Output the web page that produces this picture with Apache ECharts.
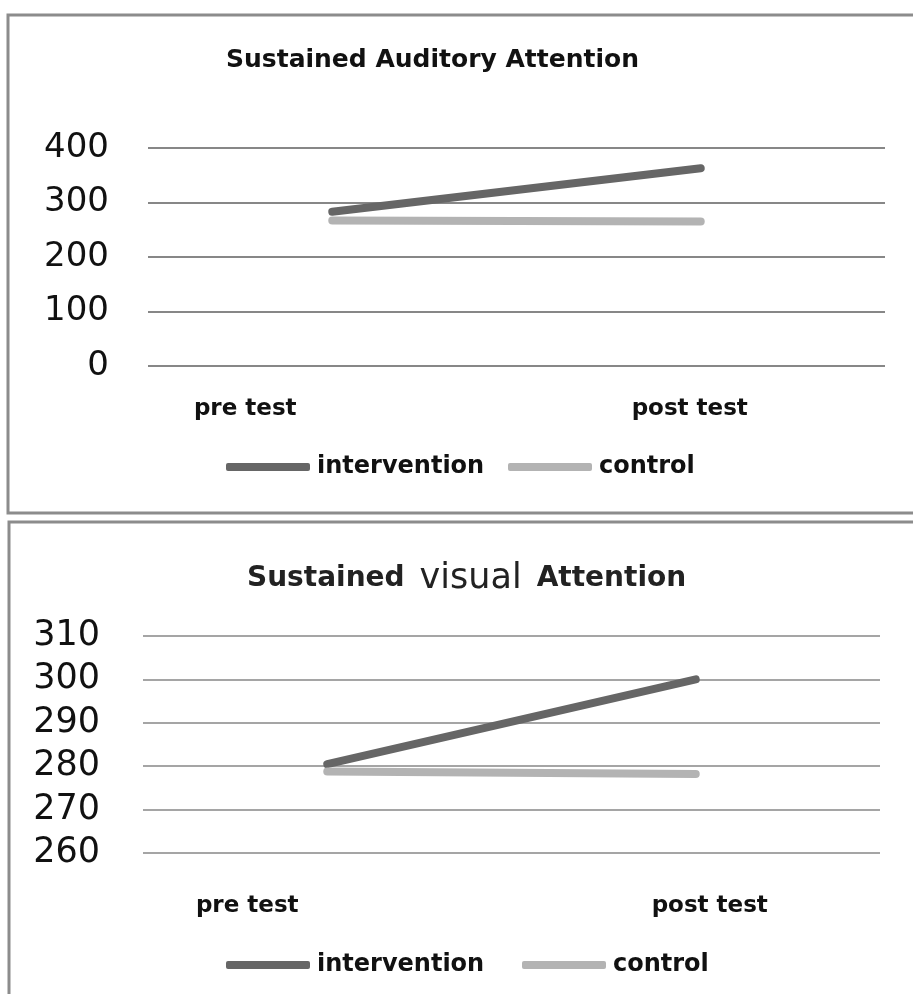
<!DOCTYPE html>
<html>
<head>
<meta charset="utf-8">
<script src="https://cdn.jsdelivr.net/npm/echarts@6/dist/echarts.min.js"></script>
<style>
html,body{margin:0;padding:0;background:#fff;}
#chart{width:913px;height:994px;}
</style>
</head>
<body>
<div id="chart"></div>
<script>
const categories = ['pre test', 'post test'];
const auditoryIntervention = [283, 363];
const auditoryControl = [267, 265];
const visualIntervention = [280.5, 300];
const visualControl = [278.8, 278.2];
const auditoryTicks = [0, 100, 200, 300, 400];
const visualTicks = [260, 270, 280, 290, 300, 310];
const seriesNames = ['intervention', 'control'];

const darkGray = '#666666';
const lightGray = '#b3b3b3';
const labelFont = 'DejaVu Sans';

function yAxis(gridIndex, ticks, fontSize, margin, lineW) {
  return {
    type: 'value', gridIndex: gridIndex,
    min: ticks[0], max: ticks[ticks.length - 1], interval: ticks[1] - ticks[0],
    axisLine: {show: false}, axisTick: {show: false},
    axisLabel: {fontFamily: labelFont, fontSize: fontSize, color: '#111', margin: margin},
    splitLine: {lineStyle: {color: '#878787', width: lineW}}
  };
}
function xAxis(gridIndex, margin, rich) {
  return {
    type: 'category', gridIndex: gridIndex, data: categories, boundaryGap: true,
    axisLine: {show: false}, axisTick: {show: false},
    axisLabel: {
      margin: margin,
      formatter: function (v, i) { return '{' + (i === 0 ? 'p' : 'q') + '|' + v + '}'; },
      rich: rich
    }
  };
}
const xLabelStyle = {fontFamily: labelFont, fontWeight: 'bold', fontSize: 23, color: '#111'};
function line(name, data, color, idx) {
  return {
    name: name, type: 'line', xAxisIndex: idx, yAxisIndex: idx, data: data,
    showSymbol: false, symbol: 'none', silent: true,
    lineStyle: {color: color, width: 8, cap: 'round'}, itemStyle: {color: color}
  };
}
function legend(name, left, top) {
  return {
    data: [name], left: left, top: top, icon: 'roundRect', itemWidth: 84, itemHeight: 8,
    itemGap: 0, selectedMode: false,
    textStyle: {fontFamily: labelFont, fontWeight: 'bold', fontSize: 24, color: '#111', padding: [0, 0, 0, 2]}
  };
}

const chart = echarts.init(document.getElementById('chart'), null, {renderer: 'canvas'});
chart.setOption({
  backgroundColor: '#fff',
  animation: false,
  graphic: [
    {type: 'rect', shape: {x: 8, y: 15, width: 960, height: 498}, style: {fill: 'none', stroke: '#8c8c8c', lineWidth: 3}},
    {type: 'rect', shape: {x: 9, y: 522, width: 960, height: 520}, style: {fill: 'none', stroke: '#8c8c8c', lineWidth: 3}}
  ],
  title: [
    {text: 'Sustained Auditory Attention', left: 226, top: 48, padding: 0,
     textStyle: {fontFamily: labelFont, fontWeight: 'bold', fontSize: 25, color: '#111'}},
    {text: '{b|Sustained} {v|visual} {b|Attention}', left: 247, top: 561, padding: 0,
     textStyle: {rich: {
       b: {fontFamily: labelFont, fontWeight: 'bold', fontSize: 28, color: '#222'},
       v: {fontFamily: labelFont, fontWeight: 'normal', fontSize: 35, color: '#222', padding: [0, 10, 0, 10]}
     }}}
  ],
  legend: [
    legend('intervention', 221, 450),
    legend('control', 503, 450),
    legend('intervention', 221, 948),
    legend('control', 517, 948)
  ],
  grid: [
    {left: 148, right: 28, top: 148, height: 218},
    {left: 143, right: 33, top: 636, height: 217}
  ],
  xAxis: [
    xAxis(0, 32, {p: Object.assign({padding: [0, 174, 0, 0]}, xLabelStyle), q: Object.assign({padding: [0, 22, 0, 0]}, xLabelStyle)}),
    xAxis(1, 42, {p: Object.assign({padding: [0, 160, 0, 0]}, xLabelStyle), q: Object.assign({padding: [0, 0, 0, 28]}, xLabelStyle)})
  ],
  yAxis: [
    yAxis(0, auditoryTicks, 34, 39, 2),
    yAxis(1, visualTicks, 35, 43, 1.5)
  ],
  series: [
    line(seriesNames[0], auditoryIntervention, darkGray, 0),
    line(seriesNames[1], auditoryControl, lightGray, 0),
    line(seriesNames[0], visualIntervention, darkGray, 1),
    line(seriesNames[1], visualControl, lightGray, 1)
  ]
});
</script>
</body>
</html>
